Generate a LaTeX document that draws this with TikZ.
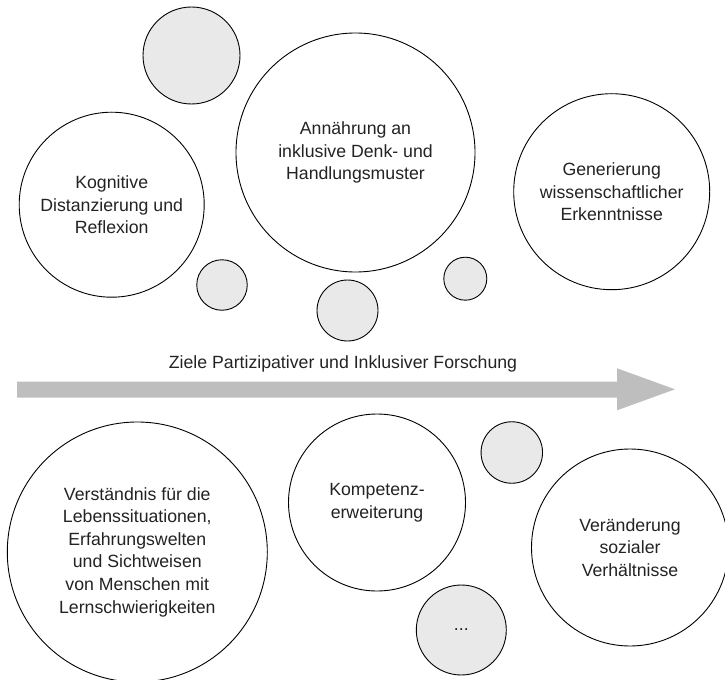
\documentclass[tikz,border=0pt]{standalone}
\usepackage{fontspec}
\setmainfont{Liberation Sans}
\definecolor{bubblegray}{RGB}{233,233,233}
\definecolor{arrowgray}{RGB}{190,190,190}
\definecolor{textgray}{RGB}{35,35,35}
\begin{document}
\begin{tikzpicture}[x=1bp,y=-1bp,
  bubble/.style={circle,draw=black,line width=0.9bp,fill=white,inner sep=0pt,
    align=center,text=textgray,font=\fontsize{17.7bp}{22.6bp}\selectfont},
  dotbubble/.style={bubble,fill=bubblegray},
  title/.style={text=textgray,font=\fontsize{17.7bp}{22.6bp}\selectfont}]
\useasboundingbox (0,0) rectangle (725,680);

% upper row of goals
\node[dotbubble,minimum size=97bp]  (g1) at (191.5,55.5) {};
\node[bubble,minimum size=239bp] (annaeherung) at (355.5,152.5)
  {Annährung an\\inklusive Denk- und\\Handlungsmuster};
\node[bubble,minimum size=185bp] (kognitiv) at (111.7,204.7)
  {Kognitive\\Distanzierung und\\Reflexion};
\node[bubble,minimum size=196bp] (generierung) at (611.7,191.7)
  {Generierung\\wissenschaftlicher\\Erkenntnisse};
\node[dotbubble,minimum size=50.5bp] (g2) at (222,285) {};
\node[dotbubble,minimum size=61bp]   (g3) at (347.5,310.5) {};
\node[dotbubble,minimum size=43bp]   (g4) at (465.3,278.7) {};

% direction arrow with caption
\node[title] (ziele) at (343,363.5) {Ziele Partizipativer und Inklusiver Forschung};
\fill[arrowgray] (17,381.5) -- (617,381.5) -- (617,368.3) -- (675,389.3)
  -- (617,410.3) -- (617,397.5) -- (17,397.5) -- cycle;

% lower row of goals
\node[bubble,minimum size=260bp] (verstaendnis) at (137.3,552)
  {Verständnis für die\\Lebenssituationen,\\Erfahrungswelten\\und Sichtweisen\\von Menschen mit\\Lernschwierigkeiten};
\node[bubble,minimum size=177bp] (kompetenz) at (377,502.5)
  {Kompetenz-\\erweiterung};
\node[dotbubble,minimum size=61.5bp] (g5) at (511.8,452.5) {};
\node[bubble,minimum size=197bp] (veraenderung) at (630,547.5)
  {Veränderung\\sozialer\\Verhältnisse};
\node[dotbubble,minimum size=90bp] (weitere) at (461.3,630) {...};
\end{tikzpicture}
\end{document}
